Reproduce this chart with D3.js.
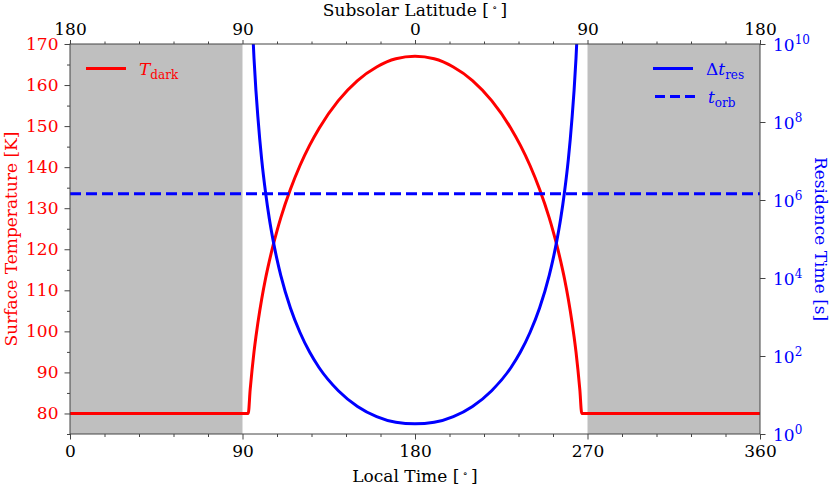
<!DOCTYPE html>
<html><head><meta charset="utf-8">
<script src="https://cdn.jsdelivr.net/npm/d3@7"></script>
<style>body{margin:0;background:#fff} text{font-family:"DejaVu Serif",serif}</style>
</head><body><svg id="c" width="830" height="488"></svg>
<script>
// ---- data ----
const localTime = [0, 93, 94, 95, 96, 97, 98, 99, 100, 102, 104, 106, 108, 110, 115, 120, 125, 130, 140, 150, 160, 170, 180,
  190, 200, 210, 220, 230, 235, 240, 245, 250, 252, 254, 256, 258, 260, 261, 262, 263, 264, 265, 266, 267, 360];
const surfaceTemp = [80, 80, 85.8, 90.7, 95.0, 98.7, 102.0, 105.0, 107.8, 112.8, 117.1, 121.0, 124.5, 127.7, 134.6, 140.4, 145.3, 149.5, 156.2, 161.1, 164.4, 166.4, 167.0,
  166.4, 164.4, 161.1, 156.2, 149.5, 145.3, 140.4, 134.6, 127.7, 124.5, 121.0, 117.1, 112.8, 107.8, 105.0, 102.0, 98.7, 95.0, 90.7, 85.8, 80, 80];
const residenceTime = [5e13, 5e13, 9.1e11, 4.6e10, 4.3e9, 6.5e8, 1.4e8, 3.6e7, 1.1e7, 1.6e6, 3.3e5, 9.1e4, 3.0e4, 1.15e4, 1700, 400, 126, 50, 12.9, 5.1, 2.8, 2.0, 1.82,
  2.0, 2.8, 5.1, 12.9, 50, 126, 400, 1700, 1.15e4, 3.0e4, 9.1e4, 3.3e5, 1.6e6, 1.1e7, 3.6e7, 1.4e8, 6.5e8, 4.3e9, 4.6e10, 9.1e11, 5e13, 5e13];
const orbitalPeriod = 1.45e6;
const nightRanges = [[0, 90], [270, 360]];
const bottomTicks = [0, 90, 180, 270, 360];
const topTickLabels = ["180", "90", "0", "90", "180"];
const tempTicks = [80, 90, 100, 110, 120, 130, 140, 150, 160, 170];
const resExponents = [0, 2, 4, 6, 8, 10];

// ---- layout ----
const L = 70, R = 760, T = 44, B = 434;
const svg = d3.select("#c");
const x = d3.scaleLinear().domain([0, 360]).range([L, R]);
const yT = d3.scaleLinear().domain([75, 170]).range([B, T]);
const yR = d3.scaleLog().domain([1, 1e10]).range([B, T]);

svg.append("defs").append("clipPath").attr("id", "clip")
  .append("rect").attr("x", L).attr("y", T).attr("width", R - L).attr("height", B - T);

// night shading
svg.append("g").selectAll("rect").data(nightRanges).join("rect")
  .attr("x", d => x(d[0])).attr("y", T).attr("width", d => x(d[1]) - x(d[0])).attr("height", B - T)
  .attr("fill", "#bfbfbf");

const plot = svg.append("g").attr("clip-path", "url(#clip)");
const idx = d3.range(localTime.length);
plot.append("path").datum(idx)
  .attr("d", d3.line().x(i => x(localTime[i])).y(i => yT(surfaceTemp[i])).curve(d3.curveMonotoneX))
  .attr("fill", "none").attr("stroke", "#ff0000").attr("stroke-width", 3);
plot.append("path").datum(idx)
  .attr("d", d3.line().x(i => x(localTime[i])).y(i => yR(residenceTime[i])).curve(d3.curveMonotoneX))
  .attr("fill", "none").attr("stroke", "#0000ff").attr("stroke-width", 3);
plot.append("line").attr("x1", L).attr("x2", R).attr("y1", yR(orbitalPeriod)).attr("y2", yR(orbitalPeriod))
  .attr("stroke", "#0000ff").attr("stroke-width", 3).attr("stroke-dasharray", "11,5");

// ---- axes ----
const axisColor = "#444";
function style(g, color, size) {
  g.selectAll(".domain").remove();
  g.selectAll("line").attr("stroke", axisColor);
  g.selectAll("text").attr("fill", color).style("font-size", size + "px").style("font-family", "DejaVu Serif");
}
const minorX = d3.range(0, 361, 18).filter(v => v % 90 !== 0);
// bottom
svg.append("g").attr("transform", `translate(0,${B})`)
  .call(d3.axisBottom(x).tickValues(bottomTicks).tickSize(5.5).tickPadding(5).tickFormat(d3.format("d")))
  .call(g => style(g, "#000", 17));
svg.append("g").attr("transform", `translate(0,${B})`)
  .call(d3.axisBottom(x).tickValues(minorX).tickSize(3).tickFormat(""))
  .call(g => style(g, "#000", 17));
// top
svg.append("g").attr("transform", `translate(0,${T})`)
  .call(d3.axisTop(x).tickValues(bottomTicks).tickSize(4).tickPadding(5).tickFormat((d, i) => topTickLabels[i]))
  .call(g => style(g, "#000", 17));
svg.append("g").attr("transform", `translate(0,${T})`)
  .call(d3.axisTop(x).tickValues(minorX).tickSize(2.5).tickFormat(""))
  .call(g => style(g, "#000", 17));
// left
svg.append("g").attr("transform", `translate(${L},0)`)
  .call(d3.axisLeft(yT).tickValues(tempTicks).tickSize(5.5).tickPadding(6).tickFormat(d3.format("d")))
  .call(g => style(g, "#ff0000", 17));
svg.append("g").attr("transform", `translate(${L},0)`)
  .call(d3.axisLeft(yT).tickValues(d3.range(75, 170, 10)).tickSize(3).tickFormat(""))
  .call(g => style(g, "#ff0000", 17));
// right (log)
const rightAxis = svg.append("g").attr("transform", `translate(${R},0)`)
  .call(d3.axisRight(yR).tickValues(resExponents.map(e => Math.pow(10, e))).tickSize(5.5).tickPadding(7).tickFormat(""))
  .call(g => style(g, "#0000ff", 17));
rightAxis.selectAll(".tick").each(function (d, i) {
  const t = d3.select(this).append("text").attr("x", 13).attr("dy", "0.36em")
    .attr("fill", "#0000ff").style("font-size", "17px").attr("text-anchor", "start");
  t.append("tspan").text("10");
  t.append("tspan").attr("dy", -7).style("font-size", "12px").text(resExponents[i]);
});

// spines
svg.append("rect").attr("x", L).attr("y", T).attr("width", R - L).attr("height", B - T)
  .attr("fill", "none").attr("stroke", axisColor).attr("stroke-width", 1);

// ---- axis labels ----
function degLabel(sel, main) {
  sel.append("tspan").text(main + " [\u2009");
  sel.append("tspan").attr("dy", -5).style("font-size", "10px").text("\u2218");
  sel.append("tspan").attr("dy", 5).text("\u2009]");
}
svg.append("text").attr("x", (L + R) / 2).attr("y", 16).attr("text-anchor", "middle")
  .style("font-size", "17px").attr("fill", "#000").call(s => degLabel(s, "Subsolar Latitude"));
svg.append("text").attr("x", (L + R) / 2).attr("y", 482).attr("text-anchor", "middle")
  .style("font-size", "17px").attr("fill", "#000").call(s => degLabel(s, "Local Time"));
svg.append("text").attr("transform", `translate(17,${(T + B) / 2}) rotate(-90)`).attr("text-anchor", "middle")
  .style("font-size", "17px").attr("fill", "#ff0000").text("Surface Temperature [K]");
svg.append("text").attr("transform", `translate(815,${(T + B) / 2}) rotate(90)`).attr("text-anchor", "middle")
  .style("font-size", "17px").attr("fill", "#0000ff").text("Residence Time [s]");

// ---- legends ----
function legendEntry(x1, y, color, dash, main, sub) {
  svg.append("line").attr("x1", x1).attr("x2", x1 + 40).attr("y1", y).attr("y2", y)
    .attr("stroke", color).attr("stroke-width", 3).attr("stroke-dasharray", dash);
  const t = svg.append("text").attr("x", x1 + 53).attr("y", y + 6).attr("fill", color).style("font-size", "17px");
  main.forEach(m => t.append("tspan").style("font-style", m.italic ? "italic" : "normal").text(m.s));
  t.append("tspan").attr("dy", 4).style("font-size", "12px").text(sub);
}
legendEntry(86, 68.5, "#ff0000", null, [{ s: "T", italic: true }], "dark");
legendEntry(653, 68.5, "#0000ff", null, [{ s: "\u0394", italic: false }, { s: "t", italic: true }], "res");
legendEntry(655, 96.5, "#0000ff", "10,5", [{ s: "t", italic: true }], "orb");
</script></body></html>
